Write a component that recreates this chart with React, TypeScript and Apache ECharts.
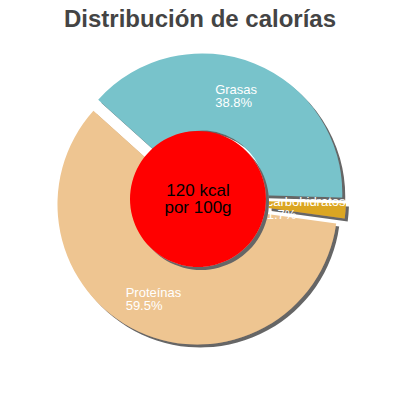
import { useEffect, useRef } from "react";
import * as echarts from "echarts";

const title = "Distribución de calorías";
const names = ["Grasas", "carbohidratos", "Proteínas"];
const values = [38.8, 1.7, 59.5];
const colors = ["#78c3cb", "#dba620", "#eec591"];
const centerLines = ["120 kcal", "por 100g"];

export default function App() {
  const chartRef = useRef<HTMLDivElement | null>(null);

  useEffect(() => {
    document.body.style.margin = "0";
    if (!chartRef.current) return;
    const chart = echarts.init(chartRef.current, undefined, { renderer: "svg" });

    const shadow = {
      shadowColor: "#666666",
      shadowBlur: 0,
      shadowOffsetX: 3,
      shadowOffsetY: 3,
    };
    // small horizontal nudges so the labels sit where the reference puts them
    const labelDx = [-5, -4, 0];

    chart.setOption({
      animation: false,
      title: {
        text: title,
        left: "center",
        top: 1,
        textStyle: {
          fontFamily: "Liberation Sans, Arial, sans-serif",
          fontSize: 24,
          fontWeight: "bold",
          color: "#444444",
        },
      },
      series: [
        {
          type: "pie",
          z: 2,
          center: [200, 199],
          radius: [63, 140],
          startAngle: 138,
          clockwise: true,
          selectedMode: "multiple",
          selectedOffset: 6,
          silent: true,
          itemStyle: { ...shadow },
          label: {
            show: true,
            position: "inside",
            formatter: (p: any) => `{t|${p.name}}\n{t|${p.value}%}`,
            rich: {
              t: {
                align: "left",
                color: "#ffffff",
                fontFamily: "Liberation Sans, Arial, sans-serif",
                fontSize: 13,
                lineHeight: 13,
              },
            },
          },
          labelLayout: (p: any) => ({ dx: labelDx[p.dataIndex], dy: 0 }),
          labelLine: { show: false },
          data: names.map((name, i) => ({
            name,
            value: values[i],
            selected: true,
            itemStyle: { color: colors[i] },
          })),
        },
        {
          type: "pie",
          z: 5,
          center: [198, 199],
          radius: [0, 68],
          silent: true,
          itemStyle: { color: "#ff0000", ...shadow },
          label: {
            show: true,
            position: "center",
            formatter: centerLines.join("\n"),
            color: "#000000",
            fontFamily: "Liberation Sans, Arial, sans-serif",
            fontSize: 17,
            lineHeight: 17,
          },
          labelLine: { show: false },
          data: [{ name: "kcal", value: 1 }],
        },
      ],
    });

    return () => {
      chart.dispose();
    };
  }, []);

  return <div ref={chartRef} style={{ width: "400px", height: "400px" }} />;
}
